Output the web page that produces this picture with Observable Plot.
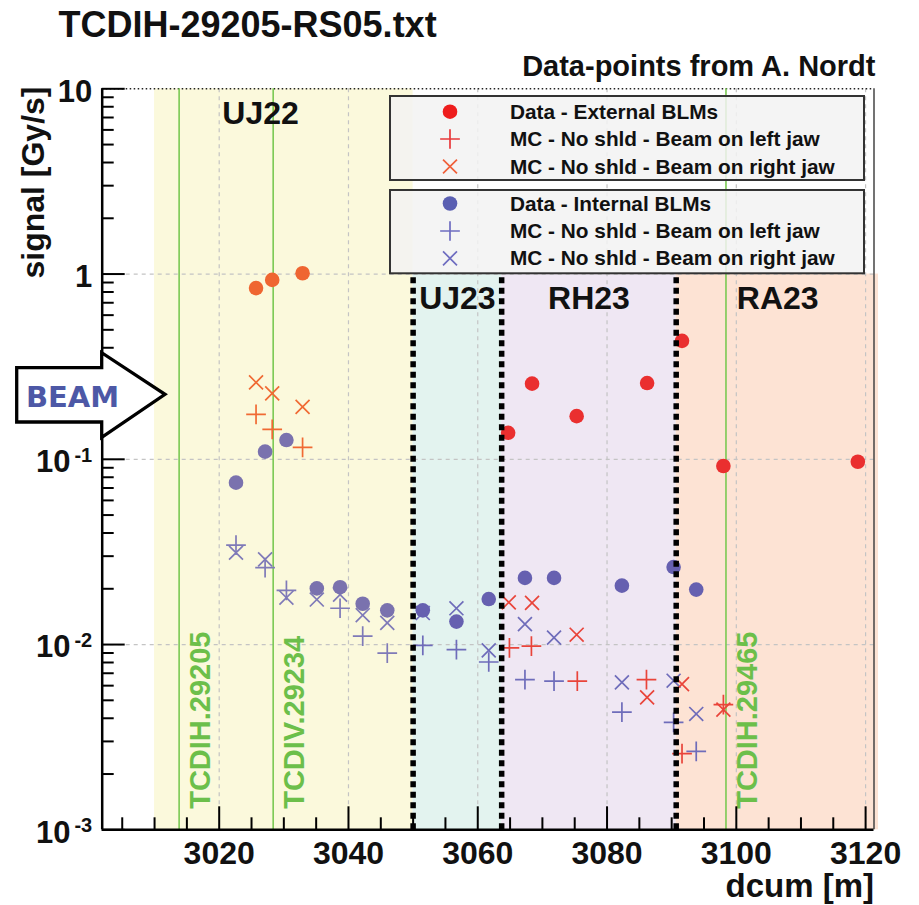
<!DOCTYPE html>
<html>
<head>
<meta charset="utf-8">
<script src="https://cdn.jsdelivr.net/npm/d3@7"></script>
<script src="https://cdn.jsdelivr.net/npm/@observablehq/plot@0.6"></script>
<style>
  html, body { margin: 0; padding: 0; background: #fff; }
  #chart { width: 919px; height: 905px; }
</style>
</head>
<body>
<div id="chart"></div>
<script>
// ---------------- data ----------------
const titleText = "TCDIH-29205-RS05.txt";
const subtitleText = "Data-points from A. Nordt";
const xTitle = "dcum [m]";
const yTitle = "signal [Gy/s]";

// Data - External BLMs
const extDcum   = [3025.7, 3028.2, 3032.9, 3064.7, 3068.4, 3075.3, 3086.2, 3091.6, 3098.0, 3118.8];
const extSignal = [0.84, 0.93, 1.01, 0.139, 0.256, 0.171, 0.258, 0.436, 0.092, 0.097];
// MC - No shld - Beam on left jaw (external)
const mcExtLeftDcum   = [3025.7, 3028.2, 3032.9, 3064.9, 3068.3, 3075.4, 3086.1, 3091.6, 3098.0];
const mcExtLeftSignal = [0.175, 0.145, 0.116, 0.0096, 0.0098, 0.00634, 0.00647, 0.00258, 0.00474];
// MC - No shld - Beam on right jaw (external)
const mcExtRightDcum   = [3025.7, 3028.2, 3032.9, 3064.8, 3068.4, 3075.3, 3086.2, 3091.6, 3098.0];
const mcExtRightSignal = [0.26, 0.227, 0.192, 0.0169, 0.0168, 0.0113, 0.00519, 0.00612, 0.00445];
// Data - Internal BLMs
const intDcum   = [3022.6, 3027.1, 3030.4, 3035.1, 3038.7, 3042.2, 3046.0, 3051.5, 3056.7, 3061.7, 3067.3, 3071.8, 3082.3, 3090.3, 3093.8];
const intSignal = [0.0748, 0.110, 0.127, 0.0201, 0.0204, 0.0166, 0.0153, 0.0153, 0.0133, 0.0176, 0.0229, 0.0229, 0.0208, 0.0262, 0.0198];
// MC - No shld - Beam on left jaw (internal)
const mcIntLeftDcum   = [3022.6, 3027.1, 3030.4, 3038.7, 3042.2, 3046.0, 3051.5, 3056.7, 3061.7, 3067.3, 3071.8, 3082.3, 3090.3, 3093.8];
const mcIntLeftSignal = [0.0344, 0.026, 0.0196, 0.0157, 0.0111, 0.0090, 0.0099, 0.0094, 0.00805, 0.00647, 0.00634, 0.00432, 0.0038, 0.00265];
// MC - No shld - Beam on right jaw (internal)
const mcIntRightDcum   = [3022.6, 3027.1, 3030.4, 3035.1, 3038.7, 3042.2, 3046.0, 3051.5, 3056.7, 3061.7, 3067.3, 3071.8, 3082.3, 3090.3, 3093.8];
const mcIntRightSignal = [0.0313, 0.0288, 0.0179, 0.0175, 0.0186, 0.0144, 0.0131, 0.0148, 0.0157, 0.0093, 0.0129, 0.0109, 0.00625, 0.00638, 0.00422];

// Regions (areas of the tunnel)
const regionNames  = ["UJ22", "UJ23", "RH23", "RA23"];
const regionStart  = [3010, 3050, 3063.7, 3090.7];
const regionEnd    = [3050, 3063.7, 3090.7, 3122];
const regionTop    = [10, 1, 1, 1];
const regionLabelX = [3026.4, 3056.85, 3077.2, 3106.4];
const dividerDcum  = [3050, 3063.7, 3090.7];

// Collimator (TCDI) positions
const tcdiNames = ["TCDIH.29205", "TCDIV.29234", "TCDIH.29465"];
const tcdiDcum  = [3013.8, 3028.35, 3098.4];

// Legend
const legendLabels = [
  "Data - External BLMs", "MC - No shld - Beam on left jaw", "MC - No shld - Beam on right jaw",
  "Data - Internal BLMs", "MC - No shld - Beam on left jaw", "MC - No shld - Beam on right jaw"
];

// Axes
const xDomain = [3001.9, 3121.3];
const yDomain = [1e-3, 10];
const xMajorTicks = [3020, 3040, 3060, 3080, 3100, 3120];
const xTickLabels = ["3020", "3040", "3060", "3080", "3100", "3120"];
const xMinorTicks = d3.range(3005, 3121, 5).filter(v => !xMajorTicks.includes(v));
const yMajorTicks = [1e-3, 1e-2, 1e-1, 1, 10];
const yPlainTicks = [1, 10];
const yPlainLabels = ["1", "10"];
const yPowTicks = [1e-1, 1e-2, 1e-3];
const yPowExponents = ["-1", "-2", "-3"];
const yMinorTicks = [1e-3, 1e-2, 1e-1, 1].flatMap(b => d3.range(2, 10).map(m => m * b));

// ---------------- style ----------------
const FONT = "'Liberation Sans', Arial, Helvetica, sans-serif";
const C = {
  ext: "#ea2f2f", extUJ: "#ef6631",
  mcExt: "#e9443a", mcExtUJ: "#f06a33",
  int: "#6660b0", intUJ: "#7a72ae",
  mcInt: "#6e6cba", mcIntUJ: "#7f7ab8",
  green: "#7ac953", greenText: "#6cbf4a", beam: "#4d58a6", grid: "#c4c4c4"
};
const bandFill = {UJ22: "#fbf9dc", UJ23: "#e3f3ef", RH23: "#efe7f3", RA23: "#fde3d4"};

// ---------------- build ----------------
const pts = (xs, ys) => xs.map((x, i) => ({dcum: x, signal: ys[i]}));
const ext = pts(extDcum, extSignal);
const mcExtLeft = pts(mcExtLeftDcum, mcExtLeftSignal);
const mcExtRight = pts(mcExtRightDcum, mcExtRightSignal);
const intl = pts(intDcum, intSignal);
const mcIntLeft = pts(mcIntLeftDcum, mcIntLeftSignal);
const mcIntRight = pts(mcIntRightDcum, mcIntRightSignal);
const inUJ22 = d => d.dcum < regionEnd[0];
const regions = regionNames.map((name, i) => ({name, x1: regionStart[i], x2: regionEnd[i], top: regionTop[i], lx: regionLabelX[i]}));
const tcdi = tcdiNames.map((name, i) => ({name, dcum: tcdiDcum[i]}));

const R_DOT = 7.3, R_SYM = 6.4, SW = 1.7;

const plot = Plot.plot({
  width: 919, height: 905,
  marginLeft: 101.7, marginRight: 45.5, marginTop: 88.3, marginBottom: 75.7,
  x: {domain: xDomain},
  y: {type: "log", domain: yDomain},
  color: {type: "identity"},
  style: {fontFamily: FONT, background: "white", overflow: "visible"},
  marks: [
    // region bands
    Plot.rect(regions, {x1: "x1", x2: "x2", y1: yDomain[0], y2: "top", fill: d => bandFill[d.name]}),
    // grid
    Plot.ruleX(xMajorTicks, {stroke: C.grid, strokeWidth: 1.2, strokeDasharray: "4,4"}),
    Plot.ruleY([1e-2, 1e-1, 1], {stroke: C.grid, strokeWidth: 1.2, strokeDasharray: "4,4"}),
    Plot.ruleY([yDomain[1]], {stroke: "#222", strokeWidth: 1.5, strokeDasharray: "1.5,2.5"}),
    // TCDI positions
    Plot.ruleX(tcdi, {x: "dcum", stroke: C.green, strokeWidth: 1.6}),
    Plot.text(tcdi, {x: "dcum", text: "name", rotate: -90, frameAnchor: "bottom", textAnchor: "start", lineAnchor: "top",
      dx: 10, dy: -21, fill: C.greenText, fontSize: 29, fontWeight: "bold"}),
    // region labels
    Plot.text(regions, {x: "lx", y: "top", text: "name", lineAnchor: "top", textAnchor: "middle", dy: 12,
      fontSize: 32, fontWeight: "bold", fill: "#111"}),
    // internal BLMs
    Plot.dot(mcIntLeft, {x: "dcum", y: "signal", symbol: "plus", r: R_SYM, fill: "none", strokeWidth: SW,
      stroke: d => inUJ22(d) ? C.mcIntUJ : C.mcInt}),
    Plot.dot(mcIntRight, {x: "dcum", y: "signal", symbol: "times", r: R_SYM, fill: "none", strokeWidth: SW,
      stroke: d => inUJ22(d) ? C.mcIntUJ : C.mcInt}),
    Plot.dot(intl, {x: "dcum", y: "signal", r: R_DOT, stroke: null, fill: d => inUJ22(d) ? C.intUJ : C.int}),
    // external BLMs
    Plot.dot(mcExtLeft, {x: "dcum", y: "signal", symbol: "plus", r: R_SYM, fill: "none", strokeWidth: SW,
      stroke: d => inUJ22(d) ? C.mcExtUJ : C.mcExt}),
    Plot.dot(mcExtRight, {x: "dcum", y: "signal", symbol: "times", r: R_SYM, fill: "none", strokeWidth: SW,
      stroke: d => inUJ22(d) ? C.mcExtUJ : C.mcExt}),
    Plot.dot(ext, {x: "dcum", y: "signal", r: R_DOT, stroke: null, fill: d => inUJ22(d) ? C.extUJ : C.ext}),
    // region dividers
    Plot.ruleX(dividerDcum, {y1: yDomain[0], y2: 1, stroke: "#000", strokeWidth: 5.5, strokeDasharray: "6,4.5",
      strokeLinecap: "butt"}),
    // frame lines
    Plot.ruleX([xDomain[1]], {stroke: "#444", strokeWidth: 1.5}),
    Plot.ruleX([xDomain[0]], {stroke: "#000", strokeWidth: 2.5}),
    Plot.ruleY([yDomain[0]], {stroke: "#000", strokeWidth: 2.5}),
    // ticks (inward)
    Plot.axisX(xMajorTicks, {anchor: "bottom", tickSize: -23, tickFormat: () => "", label: null, strokeWidth: 2}),
    Plot.axisX(xMinorTicks, {anchor: "bottom", tickSize: -12, tickFormat: () => "", label: null, strokeWidth: 2}),
    Plot.axisY(yMajorTicks, {anchor: "left", tickSize: -23, tickFormat: () => "", label: null, strokeWidth: 2}),
    Plot.axisY(yMinorTicks, {anchor: "left", tickSize: -12, tickFormat: () => "", label: null, strokeWidth: 2}),
    // tick labels
    Plot.text(xMajorTicks, {x: d => d, text: (d, i) => xTickLabels[i], frameAnchor: "bottom", lineAnchor: "bottom",
      dy: 34, fontSize: 32, fontWeight: "bold", fill: "#111"}),
    Plot.text(yPlainTicks, {y: d => d, text: (d, i) => yPlainLabels[i], frameAnchor: "left", textAnchor: "end",
      lineAnchor: "middle", dx: -10, dy: 3, fontSize: 31, fontWeight: "bold", fill: "#111"}),
    Plot.text(yPowTicks, {y: d => d, text: () => "10", frameAnchor: "left", textAnchor: "end",
      lineAnchor: "middle", dx: -31.7, dy: 3, fontSize: 31, fontWeight: "bold", fill: "#111"}),
    Plot.text(yPowTicks, {y: d => d, text: (d, i) => yPowExponents[i], frameAnchor: "left", textAnchor: "end",
      lineAnchor: "middle", dx: -10, dy: -4, fontSize: 20, fontWeight: "bold", fill: "#111"}),
    // axis titles
    Plot.text([xTitle], {text: d => d, frameAnchor: "bottom-right", textAnchor: "end", lineAnchor: "bottom",
      dy: 66.7, fontSize: 33, fontWeight: "bold", fill: "#111"}),
    Plot.text([yTitle], {text: d => d, frameAnchor: "top-left", textAnchor: "end", lineAnchor: "middle", rotate: -90,
      dx: -68.7, dy: -2.3, fontSize: 32, fontWeight: "bold", fill: "#111"}),
    // titles
    Plot.text([titleText], {text: d => d, frameAnchor: "top-left", textAnchor: "start", lineAnchor: "bottom",
      dx: -43.7, dy: -51.6, fontSize: 36, fontWeight: "bold", fill: "#111"}),
    Plot.text([subtitleText], {text: d => d, frameAnchor: "top-right", textAnchor: "end", lineAnchor: "bottom",
      dx: 1.5, dy: -13, fontSize: 29, fontWeight: "bold", fill: "#111"})
  ]
});

document.getElementById("chart").appendChild(plot);

// ---------------- annotations: BEAM arrow and legend ----------------
const svg = d3.select(plot);

const arrow = svg.append("g").attr("class", "beam-arrow");
arrow.append("path")
  .attr("d", "M16.7,367.6 L101.7,367.6 L101.7,352.7 L165,394.3 L101.7,437.3 L101.7,422 L16.7,422 Z")
  .attr("fill", "#fff").attr("stroke", "#000").attr("stroke-width", 3.3).attr("stroke-linejoin", "miter");
arrow.append("text").text("BEAM")
  .attr("x", 72.5).attr("y", 407).attr("text-anchor", "middle")
  .attr("font-family", "'DejaVu Sans', Verdana, sans-serif").attr("font-weight", "bold")
  .attr("font-size", 29).attr("fill", C.beam);

const legendBoxes = [{x: 390, y: 96, w: 474, h: 84}, {x: 390, y: 190, w: 474, h: 83.3}];
const legendRowY = [111.7, 139, 166.5, 203.5, 231, 258.3];
const legendSym = ["circle", "plus", "times", "circle", "plus", "times"];
const legendCol = ["#ee1d1d", "#e8383a", "#f0603a", "#5a5fb2", "#6e6cc0", "#6e6cc0"];

const lg = svg.append("g").attr("class", "legend").attr("text-anchor", "start");
legendBoxes.forEach(b => {
  lg.append("rect").attr("x", b.x).attr("y", b.y).attr("width", b.w).attr("height", b.h)
    .attr("fill", "#f2f2f2").attr("fill-opacity", 0.85).attr("stroke", "#333").attr("stroke-width", 2);
});
legendLabels.forEach((label, i) => {
  const cy = legendRowY[i];
  if (legendSym[i] === "circle") {
    lg.append("circle").attr("cx", 450).attr("cy", cy).attr("r", R_DOT).attr("fill", legendCol[i]);
  } else {
    const type = legendSym[i] === "plus" ? d3.symbolPlus : d3.symbolTimes;
    lg.append("path").attr("transform", `translate(450,${cy})`)
      .attr("d", d3.symbol(type, Math.PI * R_SYM * R_SYM)())
      .attr("fill", "none").attr("stroke", legendCol[i]).attr("stroke-width", SW);
  }
  lg.append("text").text(label).attr("x", 510).attr("y", cy + 7).attr("text-anchor", "start")
    .attr("font-family", FONT).attr("font-weight", "bold").attr("font-size", 20.8).attr("fill", "#111");
});
</script>
</body>
</html>
